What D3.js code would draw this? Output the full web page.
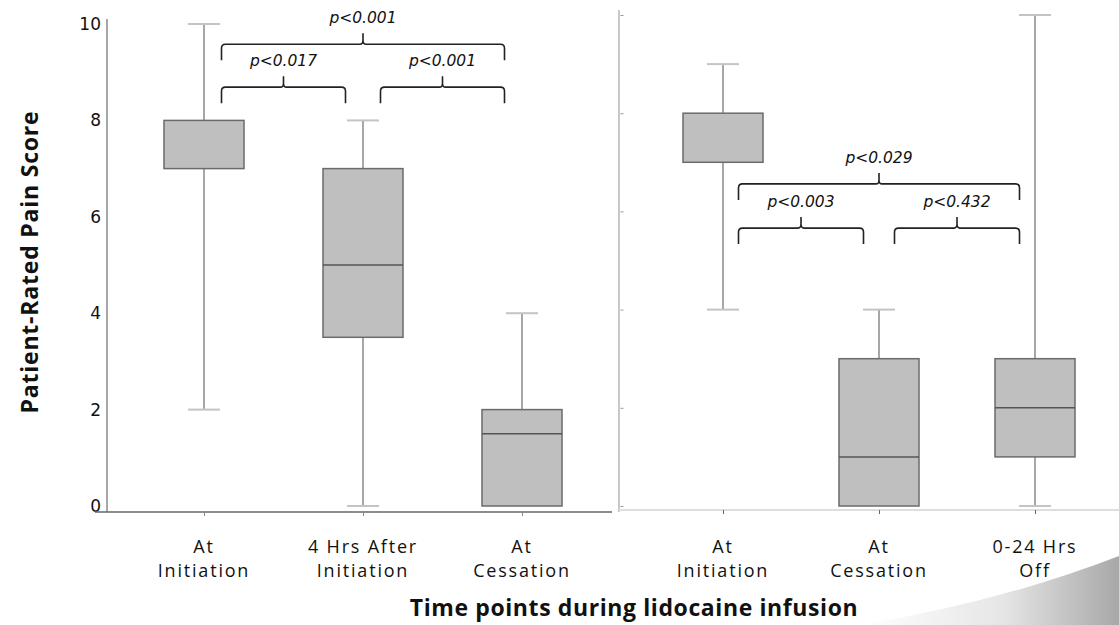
<!DOCTYPE html>
<head>
<meta charset="utf-8">
<title>Patient-Rated Pain Score</title>
<script src="https://cdn.jsdelivr.net/npm/d3@7"></script>
<style>
body { margin: 0; background: #fff; }
.box { fill: #bfbfbf; stroke: #6b6b6b; stroke-width: 1.5; }
.median { stroke: #555; stroke-width: 1.5; }
.whisker { stroke: #8a8a8a; stroke-width: 1.5; }
.cap { stroke: #c4c4c4; stroke-width: 2; }
.brace { fill: none; stroke: #222; stroke-width: 1.6; }
.plabel { font-family: "DejaVu Sans"; font-style: italic; font-size: 15.5px; fill: #111; }
.catlabel { font-family: "Open Sans"; font-size: 18px; letter-spacing: 1.8px; fill: #111; }
.ytick text { font-family: "DejaVu Sans"; font-size: 17px; fill: #111; }
.title { font-family: "Open Sans"; font-weight: bold; fill: #111; }
</style>
</head>
<body>
<div id="container"></div>
<script>

//------------------------DATA-------------------------//

const leftCats = ["At Initiation", "4 Hrs After Initiation", "At Cessation"];
const leftLabels = [["At", "Initiation"], ["4 Hrs After", "Initiation"], ["At", "Cessation"]];
const leftMin = [2, 0, 0];
const leftQ1 = [7, 3.5, 0];
const leftMed = [7, 5, 1.5];
const leftQ3 = [8, 7, 2];
const leftMax = [10, 8, 4];

const rightCats = ["At Initiation", "At Cessation", "0-24 Hrs Off"];
const rightLabels = [["At", "Initiation"], ["At", "Cessation"], ["0-24 Hrs", "Off"]];
const rightMin = [4, 0, 0];
const rightQ1 = [7, 0, 1];
const rightMed = [7, 1, 2];
const rightQ3 = [8, 3, 3];
const rightMax = [9, 4, 10];

const yTicks = [0, 2, 4, 6, 8, 10];

// comparisons: pairs of category indexes, p labels, height in score units
const leftPairs = [[0, 2], [0, 1], [1, 2]];
const leftP = ["p<0.001", "p<0.017", "p<0.001"];
const leftPY = [9.58, 8.69, 8.69];
const rightPairs = [[0, 2], [0, 1], [1, 2]];
const rightP = ["p<0.029", "p<0.003", "p<0.432"];
const rightPY = [6.56, 5.66, 5.66];

//------------------------SVG-------------------------//

const W = 1119, H = 625;
const svg = d3.select("#container").append("svg")
    .attr("width", W).attr("height", H);

// slide decoration bottom right
const grad = svg.append("defs").append("linearGradient")
    .attr("id", "swoosh").attr("x1", "0").attr("x2", "1").attr("y1", "0").attr("y2", "0");
grad.append("stop").attr("offset", "0").attr("stop-color", "#ffffff");
grad.append("stop").attr("offset", "0.55").attr("stop-color", "#e6e6e6");
grad.append("stop").attr("offset", "1").attr("stop-color", "#a8a8a8");
svg.append("path")
    .attr("d", "M860,625 Q1000,602 1119,556 L1119,625 Z")
    .attr("fill", "url(#swoosh)");

//------------------------SCALES-------------------------//

const leftX = d3.scalePoint().domain(leftCats).range([204, 522]);
const rightX = d3.scalePoint().domain(rightCats).range([723, 1035]);
const leftY = d3.scaleLinear().domain([0, 10]).range([506, 24]);
const rightY = d3.scaleLinear().domain([0, 10]).range([506, 15]);

const boxW = 80, capW = 32;

//------------------------AXES-------------------------//

// left y axis
const ly = svg.append("g")
    .attr("class", "ytick")
    .attr("transform", "translate(107,0)")
    .call(d3.axisLeft(leftY).tickValues(yTicks).tickSize(0).tickPadding(6));
ly.select(".domain").attr("stroke", "#8a8a8a").attr("stroke-width", 1.5)
    .attr("d", "M0,19V512");

// right y axis (no labels)
const ry = svg.append("g")
    .attr("transform", "translate(619,0)")
    .call(d3.axisLeft(rightY).tickValues(yTicks).tickFormat("").tickSizeInner(-3).tickSizeOuter(0));
ry.select(".domain").attr("stroke", "#c8c8c8").attr("stroke-width", 2).attr("d", "M0,10V512");
ry.selectAll(".tick line").attr("stroke", "#999").attr("transform", "translate(1.5,0)");

// left x axis
const lx = svg.append("g")
    .attr("transform", "translate(0,512)")
    .call(d3.axisBottom(leftX).tickFormat("").tickSize(4).tickSizeOuter(0));
lx.select(".domain").attr("stroke", "#666").attr("stroke-width", 1.5).attr("d", "M95,0H612");
lx.selectAll(".tick line").attr("stroke", "#888");

// right x axis
const rx = svg.append("g")
    .attr("transform", "translate(0,510)")
    .call(d3.axisBottom(rightX).tickFormat("").tickSize(4).tickSizeOuter(0));
rx.select(".domain").attr("stroke", "#dedede").attr("stroke-width", 2).attr("d", "M619,0H1119");
rx.selectAll(".tick line").attr("stroke", "#666");

//------------------------BOXES-------------------------//

function drawBoxes(cats, mins, q1s, meds, q3s, maxs, x, y) {
    const rows = cats.map(function(c, i) {
        return {cat: c, min: mins[i], q1: q1s[i], med: meds[i], q3: q3s[i], max: maxs[i]};
    });
    const g = svg.append("g").selectAll("g").data(rows).enter().append("g");

    g.append("line").attr("class", "whisker")
        .attr("x1", d => x(d.cat)).attr("x2", d => x(d.cat))
        .attr("y1", d => y(d.max)).attr("y2", d => y(d.q3));
    g.append("line").attr("class", "whisker")
        .attr("x1", d => x(d.cat)).attr("x2", d => x(d.cat))
        .attr("y1", d => y(d.q1)).attr("y2", d => y(d.min));

    g.filter(d => d.max > d.q3).append("line").attr("class", "cap")
        .attr("x1", d => x(d.cat) - capW / 2).attr("x2", d => x(d.cat) + capW / 2)
        .attr("y1", d => y(d.max)).attr("y2", d => y(d.max));
    g.filter(d => d.min < d.q1).append("line").attr("class", "cap")
        .attr("x1", d => x(d.cat) - capW / 2).attr("x2", d => x(d.cat) + capW / 2)
        .attr("y1", d => y(d.min)).attr("y2", d => y(d.min));

    g.append("rect").attr("class", "box")
        .attr("x", d => x(d.cat) - boxW / 2).attr("width", boxW)
        .attr("y", d => y(d.q3)).attr("height", d => y(d.q1) - y(d.q3));

    g.filter(d => d.med > d.q1 && d.med < d.q3).append("line").attr("class", "median")
        .attr("x1", d => x(d.cat) - boxW / 2).attr("x2", d => x(d.cat) + boxW / 2)
        .attr("y1", d => y(d.med)).attr("y2", d => y(d.med));
}

drawBoxes(leftCats, leftMin, leftQ1, leftMed, leftQ3, leftMax, leftX, leftY);
drawBoxes(rightCats, rightMin, rightQ1, rightMed, rightQ3, rightMax, rightX, rightY);

//------------------------CATEGORY LABELS-------------------------//

function drawLabels(cats, labels, x) {
    const t = svg.append("g").selectAll("text").data(cats).enter().append("text")
        .attr("class", "catlabel")
        .attr("text-anchor", "middle");
    t.append("tspan").attr("x", d => x(d)).attr("y", 553).text((d, i) => labels[i][0]);
    t.append("tspan").attr("x", d => x(d)).attr("y", 577).text((d, i) => labels[i][1]);
}
drawLabels(leftCats, leftLabels, leftX);
drawLabels(rightCats, rightLabels, rightX);

//------------------------BRACES-------------------------//

function brace(x1, x2, yy) {
    const xm = (x1 + x2) / 2, r = 4;
    return "M" + x1 + "," + (yy + 16) + "L" + x1 + "," + (yy + r) +
        "Q" + x1 + "," + yy + " " + (x1 + r) + "," + yy +
        "L" + (xm - 3) + "," + yy +
        "Q" + xm + "," + yy + " " + xm + "," + (yy - 4) +
        "L" + xm + "," + (yy - 11) +
        "M" + xm + "," + (yy - 4) +
        "Q" + xm + "," + yy + " " + (xm + 3) + "," + yy +
        "L" + (x2 - r) + "," + yy +
        "Q" + x2 + "," + yy + " " + x2 + "," + (yy + r) +
        "L" + x2 + "," + (yy + 16);
}

function drawBraces(cats, pairs, labels, ys, x, y, off) {
    const g = svg.append("g").selectAll("g").data(pairs).enter().append("g");
    g.append("path").attr("class", "brace")
        .attr("d", (p, i) => brace(x(cats[p[0]]) + off, x(cats[p[1]]) - off, y(ys[i])));
    g.append("text").attr("class", "plabel")
        .attr("text-anchor", "middle")
        .attr("x", p => (x(cats[p[0]]) + x(cats[p[1]])) / 2)
        .attr("y", (p, i) => y(ys[i]) - 21)
        .text((p, i) => labels[i]);
}
drawBraces(leftCats, leftPairs, leftP, leftPY, leftX, leftY, 17.5);
drawBraces(rightCats, rightPairs, rightP, rightPY, rightX, rightY, 15.5);

//------------------------TITLES-------------------------//

svg.append("text").attr("class", "title")
    .attr("x", 634).attr("y", 616)
    .attr("text-anchor", "middle")
    .style("font-size", "23px")
    .style("letter-spacing", "0.6px")
    .text("Time points during lidocaine infusion");

svg.append("text").attr("class", "title")
    .attr("transform", "translate(38,262) rotate(-90)")
    .attr("text-anchor", "middle")
    .style("font-size", "23px")
    .style("letter-spacing", "0.8px")
    .text("Patient-Rated Pain Score");

</script>
</body>
